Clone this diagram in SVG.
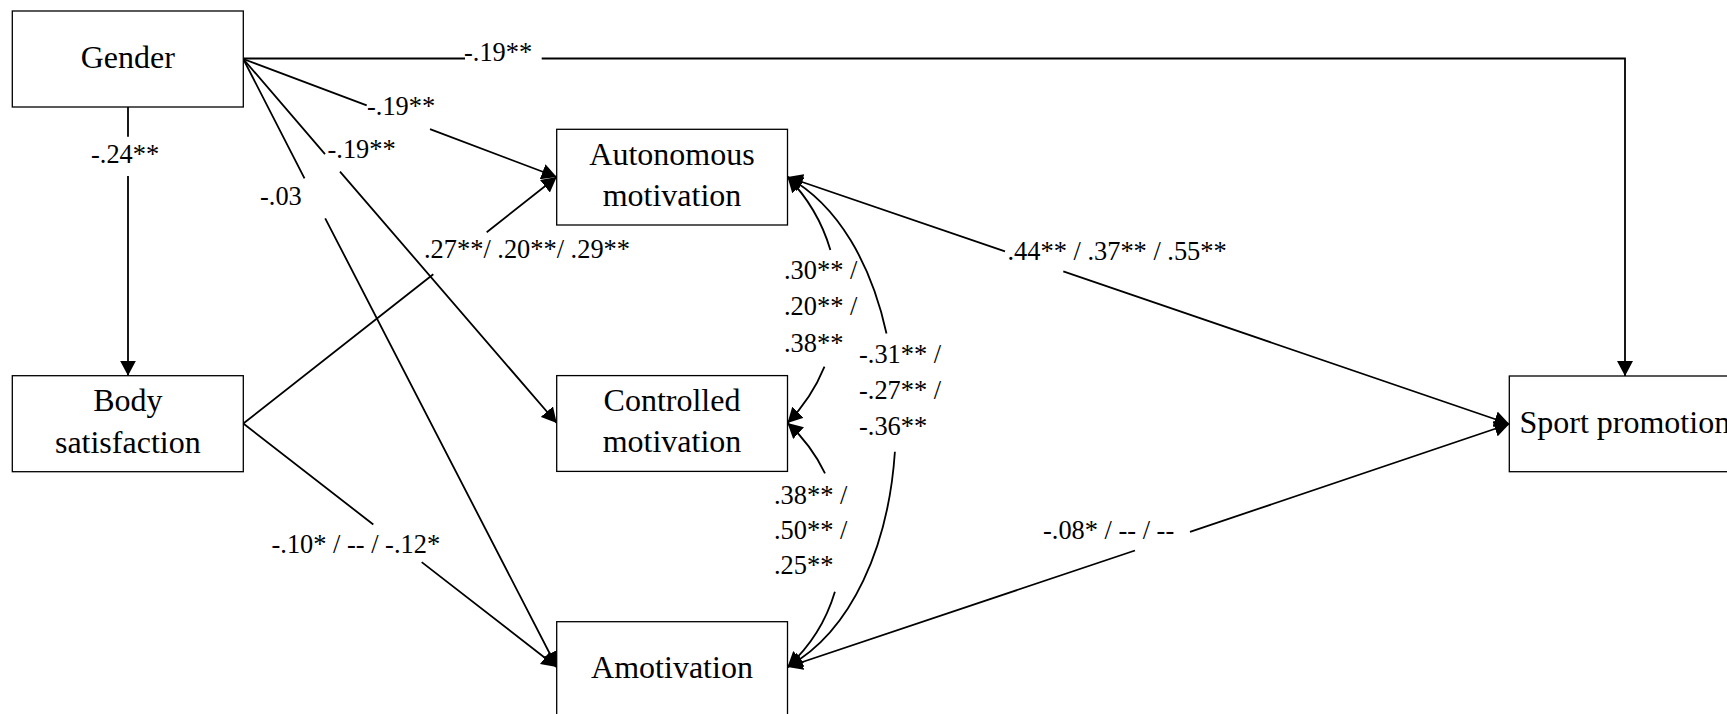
<svg xmlns="http://www.w3.org/2000/svg" width="1727" height="714" viewBox="0 0 1727 714">
<defs>
<style>
.box{fill:#fff;stroke:#000;stroke-width:1.3}
.node{font-family:"Liberation Serif","Times New Roman",serif;font-size:32px;fill:#000;text-anchor:middle}
.lab{font-family:"Liberation Serif","Times New Roman",serif;font-size:26.4px;fill:#000}
.edge{fill:none;stroke:#000;stroke-width:1.8}
.arr{marker-end:url(#ah)}
.bi{marker-start:url(#ah);marker-end:url(#ah)}
</style>
<marker id="ah" markerUnits="userSpaceOnUse" viewBox="0 0 15 16" refX="15" refY="8" markerWidth="15" markerHeight="16" orient="auto-start-reverse">
<path d="M0,0 L15,8 L0,16 Z" fill="#000"/>
</marker>
</defs>
<rect width="1727" height="714" fill="#fff"/>
<g id="connectors">
<path class="edge arr" d="M128,107 V136.7 M128,176 V375.7"/>
<path class="edge arr" d="M243.3,58.5 H465 M541.7,58.5 H1625 V376"/>
<path class="edge arr" d="M243.3,59 L366.7,105.3 M430,129.2 L556.7,177"/>
<path class="edge arr" d="M243.3,59 L325,154.2 M340,171.6 L556.7,423"/>
<path class="edge arr" d="M243.3,59 L304.5,178.3 M325.2,218.3 L556.7,667"/>
<path class="edge arr" d="M243.3,423.5 L433.3,274.2 M486.7,232.2 L556.7,177"/>
<path class="edge arr" d="M243.3,423.5 L373.3,524.5 M421.7,562.1 L556.7,667"/>
<path class="edge bi" d="M787.5,177 L1005,251.4 M1063.3,271.4 L1509.3,424"/>
<path class="edge bi" d="M787.5,667 L1135,550.5 M1190,531.9 L1509.3,424"/>
<path class="edge bi" d="M787.5,177 A175.7,175.7 0 0 1 830.4,250 M824.5,366.7 A175.7,175.7 0 0 1 787.5,423"/>
<path class="edge bi" d="M787.5,423 A165.8,165.8 0 0 1 825,473.3 M834.9,591.7 A165.8,165.8 0 0 1 787.5,667"/>
<path class="edge bi" d="M787.5,177 C838.5,205.2 871.5,264.8 886.5,333.5 M894.9,451.8 C888.7,544.2 852.9,630.8 787.5,667"/>
</g>
<g id="labels">
<text class="lab" x="464" y="61">-.19**</text>
<text class="lab" x="367" y="115">-.19**</text>
<text class="lab" x="327.5" y="158.3">-.19**</text>
<text class="lab" x="91" y="163.3">-.24**</text>
<text class="lab" x="260" y="205">-.03</text>
<text class="lab" x="424" y="258.3">.27**/ .20**/ .29**</text>
<text class="lab" x="271.5" y="552.7">-.10* / -- / -.12*</text>
<text class="lab" x="1007.5" y="260">.44** / .37** / .55**</text>
<text class="lab" x="1043" y="539.3">-.08* / -- / --</text>
<text class="lab" x="784"><tspan x="784" y="279.3">.30** /</tspan><tspan x="784" y="315.3">.20** /</tspan><tspan x="784" y="351.5">.38**</tspan></text>
<text class="lab" x="859"><tspan x="859" y="363.3">-.31** /</tspan><tspan x="859" y="399.3">-.27** /</tspan><tspan x="859" y="435.3">-.36**</tspan></text>
<text class="lab" x="774"><tspan x="774" y="504">.38** /</tspan><tspan x="774" y="539">.50** /</tspan><tspan x="774" y="574">.25**</tspan></text>
</g>
<g id="gender">
<rect class="box" x="12.3" y="11" width="231" height="96"/>
<text class="node" x="127.8" y="68">Gender</text>
</g>
<g id="body-satisfaction">
<rect class="box" x="12.3" y="375.7" width="231" height="96"/>
<text class="node" x="127.8"><tspan x="127.8" y="411">Body</tspan><tspan x="127.8" y="452.5">satisfaction</tspan></text>
</g>
<g id="autonomous-motivation">
<rect class="box" x="556.7" y="129.3" width="230.8" height="95.7"/>
<text class="node" x="672"><tspan x="672" y="165">Autonomous</tspan><tspan x="672" y="205.7">motivation</tspan></text>
</g>
<g id="controlled-motivation">
<rect class="box" x="556.7" y="375.6" width="230.8" height="95.8"/>
<text class="node" x="672"><tspan x="672" y="411">Controlled</tspan><tspan x="672" y="452">motivation</tspan></text>
</g>
<g id="amotivation">
<rect class="box" x="556.7" y="621.7" width="230.8" height="96"/>
<text class="node" x="672" y="678.3">Amotivation</text>
</g>
<g id="sport-promotion">
<rect class="box" x="1509.3" y="376" width="231" height="95.7"/>
<text class="node" x="1624.8" y="432.7">Sport promotion</text>
</g>
</svg>
